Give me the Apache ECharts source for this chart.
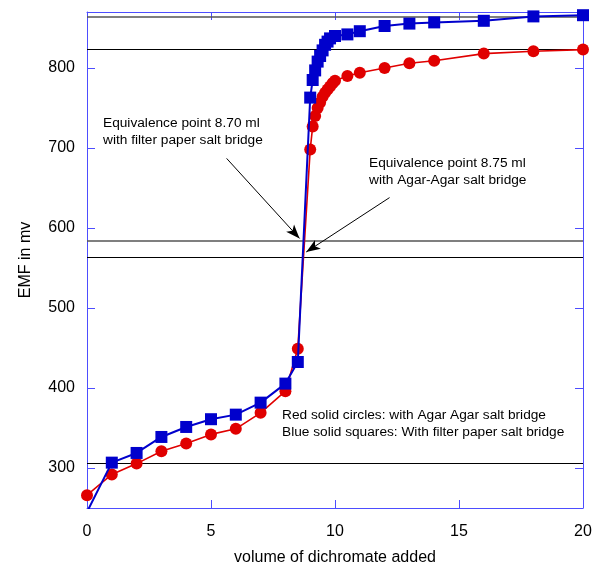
<!DOCTYPE html>
<html>
<head>
<meta charset="utf-8">
<script src="https://cdn.jsdelivr.net/npm/echarts@6/dist/echarts.min.js"></script>
<style>
  html, body { margin: 0; padding: 0; background: #fff; }
  #chart { width: 594px; height: 564px; }
</style>
</head>
<body>
<div id="chart"></div>
<script>
// Potentiometric titration: EMF vs volume of dichromate added
const volAgar = [0, 1, 2, 3, 4, 5, 6, 7, 8, 8.5, 9.0, 9.1, 9.2, 9.3, 9.4, 9.5, 9.6, 9.7, 9.8, 9.9, 10, 10.5, 11, 12, 13, 14, 16, 18, 20];
const emfAgar = [266, 292, 305.5, 321, 330.5, 342, 349, 369, 396, 449, 698, 727, 740, 750, 757, 764, 769, 773, 777, 781, 784, 790, 794, 800, 806, 809, 818, 821, 823];

const volFilter = [0, 1, 2, 3, 4, 5, 6, 7, 8, 8.5, 9.0, 9.1, 9.2, 9.3, 9.4, 9.5, 9.6, 9.7, 9.8, 10, 10.5, 11, 12, 13, 14, 16, 18, 20];
const emfFilter = [245, 306.7, 318.8, 338.8, 351.3, 361, 366.7, 381.7, 405.5, 432.5, 763, 785, 797, 808, 815, 822, 829, 833, 837, 840, 842, 846, 852.5, 855.5, 857, 859, 864.5, 866];

// horizontal construction lines (upper plateau, lower plateau and midpoints)
const levelValues = [863.5, 823.5, 583.5, 563.5, 306.5];
const levelColors = ['#555555', '#000000', '#555555', '#000000', '#000000'];
const levelWidths = [1.6, 1, 1.6, 1, 1];

// arrows to the equivalence points: [fromVol, fromEmf, toVol, toEmf]
const arrowFilter = [5.63, 687, 8.57, 587];
const arrowAgar = [12.2, 638, 8.84, 570];

const xTicks = [0, 5, 10, 15, 20];
const yTicks = [300, 400, 500, 600, 700, 800];

const axisBlue = '#4d4dff';
const font = '"Liberation Sans", Arial, sans-serif';

function pairs(xs, ys) { return xs.map((x, i) => [x, ys[i]]); }

const chart = echarts.init(document.getElementById('chart'), null, { renderer: 'canvas' });

const baseX = {
  type: 'value', min: 0, max: 20, interval: 5,
  axisLine: { show: true, onZero: false, lineStyle: { color: axisBlue, width: 1 } },
  axisTick: { show: true, inside: true, length: 8, lineStyle: { color: axisBlue } },
  splitLine: { show: false }
};
const baseY = {
  type: 'value', min: 250, max: 870,
  axisLine: { show: true, onZero: false, lineStyle: { color: axisBlue, width: 1 } },
  axisTick: { show: true, inside: true, length: 8, customValues: yTicks, lineStyle: { color: axisBlue } },
  splitLine: { show: false }
};

const levelLines = levelValues.map((v, i) => ({
  yAxis: v,
  lineStyle: { color: levelColors[i], width: levelWidths[i], type: 'solid' }
}));

function arrow(a) {
  return [
    { coord: [a[0], a[1]], symbol: 'none' },
    { coord: [a[2], a[3]], symbol: 'arrow', symbolSize: [8, 14] }
  ];
}

chart.setOption({
  animation: false,
  backgroundColor: '#ffffff',
  textStyle: { fontFamily: font },
  grid: { left: 87, right: 11, top: 12, bottom: 56, containLabel: false, outerBoundsMode: 'none' },
  xAxis: [
    Object.assign({}, baseX, {
      position: 'bottom',
      name: 'volume of dichromate added',
      nameLocation: 'middle',
      nameGap: 42,
      nameTextStyle: { fontSize: 16, color: '#000', fontFamily: font },
      axisLabel: { show: true, fontSize: 16, color: '#000', margin: 16, fontFamily: font,
        customValues: xTicks }
    }),
    Object.assign({}, baseX, { position: 'top', axisLabel: { show: false } })
  ],
  yAxis: [
    Object.assign({}, baseY, {
      position: 'left',
      name: 'EMF in mv',
      nameLocation: 'middle',
      nameGap: 53,
      nameTextStyle: { fontSize: 16, color: '#000', fontFamily: font },
      axisLabel: { show: true, fontSize: 16, color: '#000', margin: 12, fontFamily: font,
        customValues: yTicks }
    }),
    Object.assign({}, baseY, { position: 'right', axisLabel: { show: false } })
  ],
  series: [
    {
      name: 'Agar Agar salt bridge',
      type: 'line',
      xAxisIndex: 0, yAxisIndex: 0,
      data: pairs(volAgar, emfAgar),
      symbol: 'circle',
      symbolSize: 12,
      clip: true,
      itemStyle: { color: '#e00000' },
      lineStyle: { color: '#e00000', width: 1.6 },
      z: 3,
      markLine: {
        silent: true,
        symbol: 'none',
        label: { show: false },
        animation: false,
        z: 2,
        data: levelLines
      }
    },
    {
      name: 'filter paper salt bridge',
      type: 'line',
      xAxisIndex: 0, yAxisIndex: 0,
      data: pairs(volFilter, emfFilter),
      symbol: 'rect',
      symbolSize: 12,
      clip: true,
      itemStyle: { color: '#0000cc' },
      lineStyle: { color: '#0000cc', width: 2 },
      z: 4,
      markLine: {
        silent: true,
        label: { show: false },
        animation: false,
        lineStyle: { color: '#000', width: 1, type: 'solid' },
        z: 6,
        data: [arrow(arrowFilter), arrow(arrowAgar)]
      }
    }
  ],
  graphic: [
    { type: 'text', left: 103, top: 115, z: 10,
      style: { text: 'Equivalence point 8.70 ml\nwith filter paper salt bridge', fill: '#000', font: '13.7px ' + font, lineHeight: 17 } },
    { type: 'text', left: 369, top: 155, z: 10,
      style: { text: 'Equivalence point 8.75 ml\nwith Agar-Agar salt bridge', fill: '#000', font: '13.7px ' + font, lineHeight: 17 } },
    { type: 'text', left: 282, top: 407, z: 10,
      style: { text: 'Red solid circles: with Agar Agar salt bridge\nBlue solid squares: With filter paper salt bridge', fill: '#000', font: '13.7px ' + font, lineHeight: 17 } }
  ]
});
</script>
</body>
</html>
